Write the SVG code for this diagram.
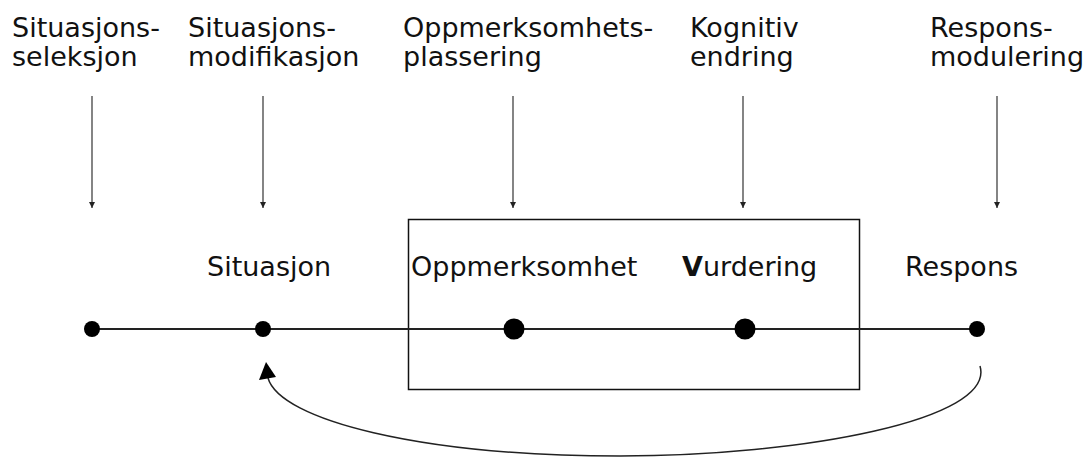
<svg xmlns="http://www.w3.org/2000/svg" width="1084" height="460" viewBox="0 0 1084 460">
  <style>
    text { font-family: "DejaVu Sans", Verdana, sans-serif; font-size: 27px; fill: #111; }
    .drop { stroke: #333; stroke-width: 1.2; fill: none; }
    .axis { stroke: #222; stroke-width: 1.8; fill: none; }
    .dot { fill: #000; }
  </style>
  <defs>
    <marker id="tinyHead" viewBox="0 0 6 6" refX="6" refY="3" markerWidth="6" markerHeight="6" markerUnits="userSpaceOnUse" orient="auto">
      <path d="M0,0 L6,3 L0,6 Z" fill="#222"/>
    </marker>
  </defs>

  <rect width="1084" height="460" fill="#fff"/>

  <!-- strategy headings -->
  <g id="h-selection"><text x="12" y="37">Situasjons-</text><text x="12" y="66">seleksjon</text></g>
  <g id="h-modification"><text x="188" y="37">Situasjons-</text><text x="188" y="66">modifikasjon</text></g>
  <g id="h-attention"><text x="403" y="37">Oppmerksomhets-</text><text x="403" y="66">plassering</text></g>
  <g id="h-cognitive"><text x="690" y="37">Kognitiv</text><text x="690" y="66">endring</text></g>
  <g id="h-response"><text x="930" y="37">Respons-</text><text x="930" y="66">modulering</text></g>

  <!-- box around attention and appraisal -->
  <rect id="box" x="408.5" y="219.5" width="451" height="170" fill="none" stroke="#111" stroke-width="1.5"/>

  <!-- connectors -->
  <g id="connectors">
    <line class="axis" x1="92" y1="329" x2="977" y2="329"/>
    <line class="drop" x1="92" y1="96" x2="92" y2="208" marker-end="url(#tinyHead)"/>
    <line class="drop" x1="263" y1="96" x2="263" y2="208" marker-end="url(#tinyHead)"/>
    <line class="drop" x1="513" y1="96" x2="513" y2="208" marker-end="url(#tinyHead)"/>
    <line class="drop" x1="743" y1="96" x2="743" y2="208" marker-end="url(#tinyHead)"/>
    <line class="drop" x1="997" y1="96" x2="997" y2="208" marker-end="url(#tinyHead)"/>
    <path d="M980,366 C996,420 800,456 620,456 C420,456 280,420 268,378" fill="none" stroke="#222" stroke-width="1.5"/>
    <path d="M266,362 L259,380 L276,377 Z" fill="#000"/>
  </g>

  <!-- stages on the timeline -->
  <g id="n-start"><circle class="dot" cx="92" cy="329" r="8"/></g>
  <g id="n-situation"><text x="207" y="276">Situasjon</text><circle class="dot" cx="263" cy="329" r="8"/></g>
  <g id="n-attention"><text x="411" y="276">Oppmerksomhet</text><circle class="dot" cx="514" cy="329" r="10.5"/></g>
  <g id="n-appraisal"><text x="682" y="276"><tspan font-weight="bold">V</tspan>urdering</text><circle class="dot" cx="745" cy="329" r="10.5"/></g>
  <g id="n-response"><text x="905" y="276">Respons</text><circle class="dot" cx="977" cy="329" r="8"/></g>
</svg>
